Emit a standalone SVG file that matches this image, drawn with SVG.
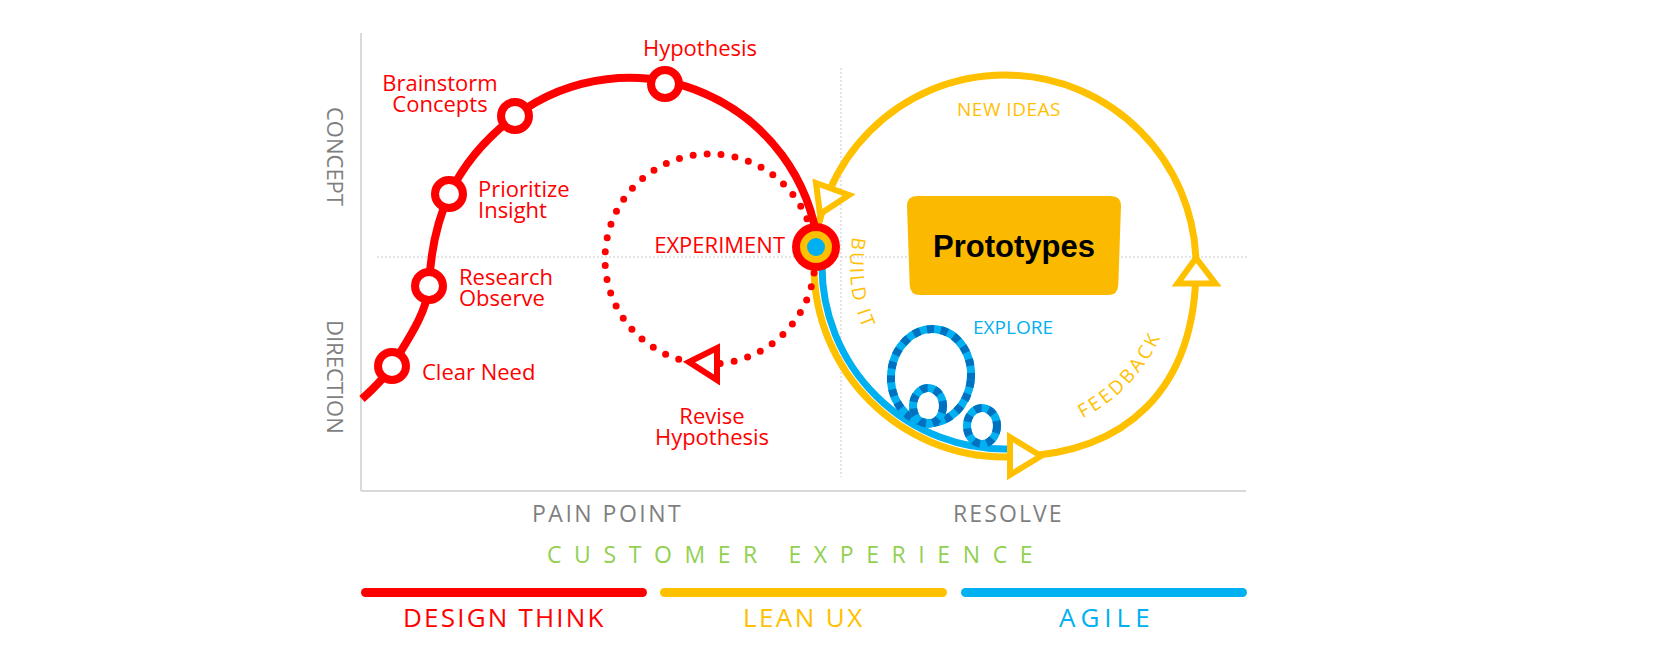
<svg xmlns="http://www.w3.org/2000/svg" width="1680" height="664" viewBox="0 0 1680 664">
<style>
.f{font-family:"Open Sans","Noto Sans","DejaVu Sans",sans-serif}
.red{font-size:22px;fill:#FF0000}
.lt{font-weight:400}
.gray{fill:#7F7F7F}
.yel{fill:#FFC000}
.blu{fill:#00B0F0}
.axis{stroke:#D9D9D9;stroke-width:2;fill:none}
.grid{stroke:#C8C8C8;stroke-width:1;stroke-dasharray:2 2;fill:none}
.node{fill:#FFFFFF;stroke:#FF0000;stroke-width:8}
.arrowY{fill:#FFFFFF;stroke:#FFC000;stroke-width:6;stroke-linejoin:miter}
.loopA{fill:none;stroke:#00B0F0;stroke-width:8}
.loopB{fill:none;stroke:#0070C0;stroke-width:8;stroke-dasharray:7 7}
</style>
<defs>
<path id="pBuild" d="M 852.7,237 A 155 155 0 0 0 927.5,400.2"/>
<path id="pFeed" d="M 1082.6,418.4 A 171 171 0 0 0 1170.2,310.3"/>
</defs>
<rect width="1680" height="664" fill="#FFFFFF"/>

<g id="axes">
<line class="axis" x1="361" y1="33" x2="361" y2="491"/>
<line class="axis" x1="361" y1="491" x2="1246" y2="491"/>
<line class="grid" x1="377" y1="257" x2="1248" y2="257"/>
<line class="grid" x1="841" y1="68" x2="841" y2="477"/>
<text class="f lt gray" font-size="22" transform="translate(327,107) rotate(90)">CONCEPT</text>
<text class="f lt gray" font-size="22" transform="translate(327,320) rotate(90)">DIRECTION</text>
<text class="f lt gray" font-size="23" x="532" y="522" letter-spacing="2.5">PAIN POINT</text>
<text class="f lt gray" font-size="23" x="953" y="522" letter-spacing="2.1">RESOLVE</text>
<text class="f lt" font-size="23" x="547" y="563" letter-spacing="12.6" fill="#92D050">CUSTOMER EXPERIENCE</text>
</g>

<g id="connectors">
<path d="M 814,266 C 814,371.5 899.5,457 1005,457 C 1127.2,457 1196,388.2 1196,266 C 1196,160.5 1110.5,75 1005,75 C 899.5,75 814,160.5 814,266 Z" fill="none" stroke="#FFC000" stroke-width="7"/>
<path d="M 822,266 A 183 183 0 0 0 1008,449" fill="none" stroke="#00B0F0" stroke-width="7"/>
<g id="explore-loops">
<ellipse class="loopA" cx="931" cy="376" rx="40" ry="47" transform="rotate(6 931 376)"/>
<ellipse class="loopB" cx="931" cy="376" rx="40" ry="47" transform="rotate(6 931 376)"/>
<ellipse class="loopA" cx="928" cy="406" rx="15" ry="18"/>
<ellipse class="loopB" cx="928" cy="406" rx="15" ry="18"/>
<ellipse class="loopA" cx="982" cy="426" rx="15" ry="18"/>
<ellipse class="loopB" cx="982" cy="426" rx="15" ry="18"/>
</g>
<circle cx="710" cy="259" r="105" fill="none" stroke="#FF0000" stroke-width="7" stroke-linecap="round" stroke-dasharray="0 14.04"/>
<polygon points="689,362 717,348 717,380" fill="#FFFFFF" stroke="#FF0000" stroke-width="6"/>
<path d="M 362,399 C 372,390 385,377 392,366 C 402,348 427,315 429,286 C 432,220 452,164 515,116 A 190 190 0 0 1 818,247" fill="none" stroke="#FF0000" stroke-width="8"/>
<polygon class="arrowY" points="816,183 849,195 820,214"/>
<polygon class="arrowY" points="1196,258 1177.5,283.5 1215.5,283.5"/>
<polygon class="arrowY" points="1010,437 1010,475 1041,456"/>
</g>

<g id="n-clear-need">
<circle class="node" cx="392" cy="366" r="14"/>
<text class="f red" x="422" y="380">Clear Need</text>
</g>
<g id="n-research">
<circle class="node" cx="429" cy="286" r="14"/>
<text class="f red" x="459" y="285">Research</text>
<text class="f red" x="459" y="306">Observe</text>
</g>
<g id="n-prioritize">
<circle class="node" cx="449" cy="194" r="14"/>
<text class="f red" x="478" y="197">Prioritize</text>
<text class="f red" x="478" y="218">Insight</text>
</g>
<g id="n-brainstorm">
<circle class="node" cx="515" cy="116" r="14"/>
<text class="f red" x="440" y="91" text-anchor="middle">Brainstorm</text>
<text class="f red" x="440" y="112" text-anchor="middle">Concepts</text>
</g>
<g id="n-hypothesis">
<circle class="node" cx="665" cy="84" r="14"/>
<text class="f red" x="700" y="56" text-anchor="middle">Hypothesis</text>
</g>
<g id="n-revise">
<text class="f red" x="712" y="424" text-anchor="middle">Revise</text>
<text class="f red" x="712" y="445" text-anchor="middle">Hypothesis</text>
</g>
<g id="n-experiment">
<circle cx="816" cy="247" r="24" fill="#FF0000"/>
<circle cx="816" cy="247" r="16" fill="#FFC000"/>
<circle cx="816" cy="247" r="9" fill="#00B0F0"/>
<text class="f red" x="785" y="253" text-anchor="end">EXPERIMENT</text>
</g>
<g id="n-prototypes">
<path d="M 917,196 L 1111,196 Q 1121,196 1121,206 L 1118.3,285 Q 1118,295 1108,295 L 920,295 Q 910,295 909.7,285 L 907,206 Q 907,196 917,196 Z" fill="#FBBA00"/>
<text x="1014" y="257" text-anchor="middle" font-family="'Liberation Sans',Arial,sans-serif" font-weight="bold" font-size="31" fill="#000000">Prototypes</text>
</g>
<g id="cycle-labels">
<text class="f lt yel" font-size="19" x="1009" y="116" text-anchor="middle" letter-spacing="0.5">NEW IDEAS</text>
<text class="f lt yel" font-size="19" letter-spacing="2.5"><textPath href="#pBuild">BUILD IT</textPath></text>
<text class="f lt yel" font-size="19" letter-spacing="3"><textPath href="#pFeed">FEEDBACK</textPath></text>
<text class="f lt blu" font-size="19" x="973" y="334">EXPLORE</text>
</g>

<g id="legend">
<line x1="365.5" y1="592.5" x2="642.5" y2="592.5" stroke="#FF0000" stroke-width="9" stroke-linecap="round"/>
<line x1="664.5" y1="592.5" x2="942.5" y2="592.5" stroke="#FFC000" stroke-width="9" stroke-linecap="round"/>
<line x1="965.5" y1="592.5" x2="1242.5" y2="592.5" stroke="#00B0F0" stroke-width="9" stroke-linecap="round"/>
<text class="f lt" font-size="26" x="403" y="627" letter-spacing="2.2" fill="#FF0000">DESIGN THINK</text>
<text class="f lt yel" font-size="26" x="743" y="627" letter-spacing="2.4">LEAN UX</text>
<text class="f lt blu" font-size="26" x="1059" y="627" letter-spacing="5">AGILE</text>
</g>
</svg>
